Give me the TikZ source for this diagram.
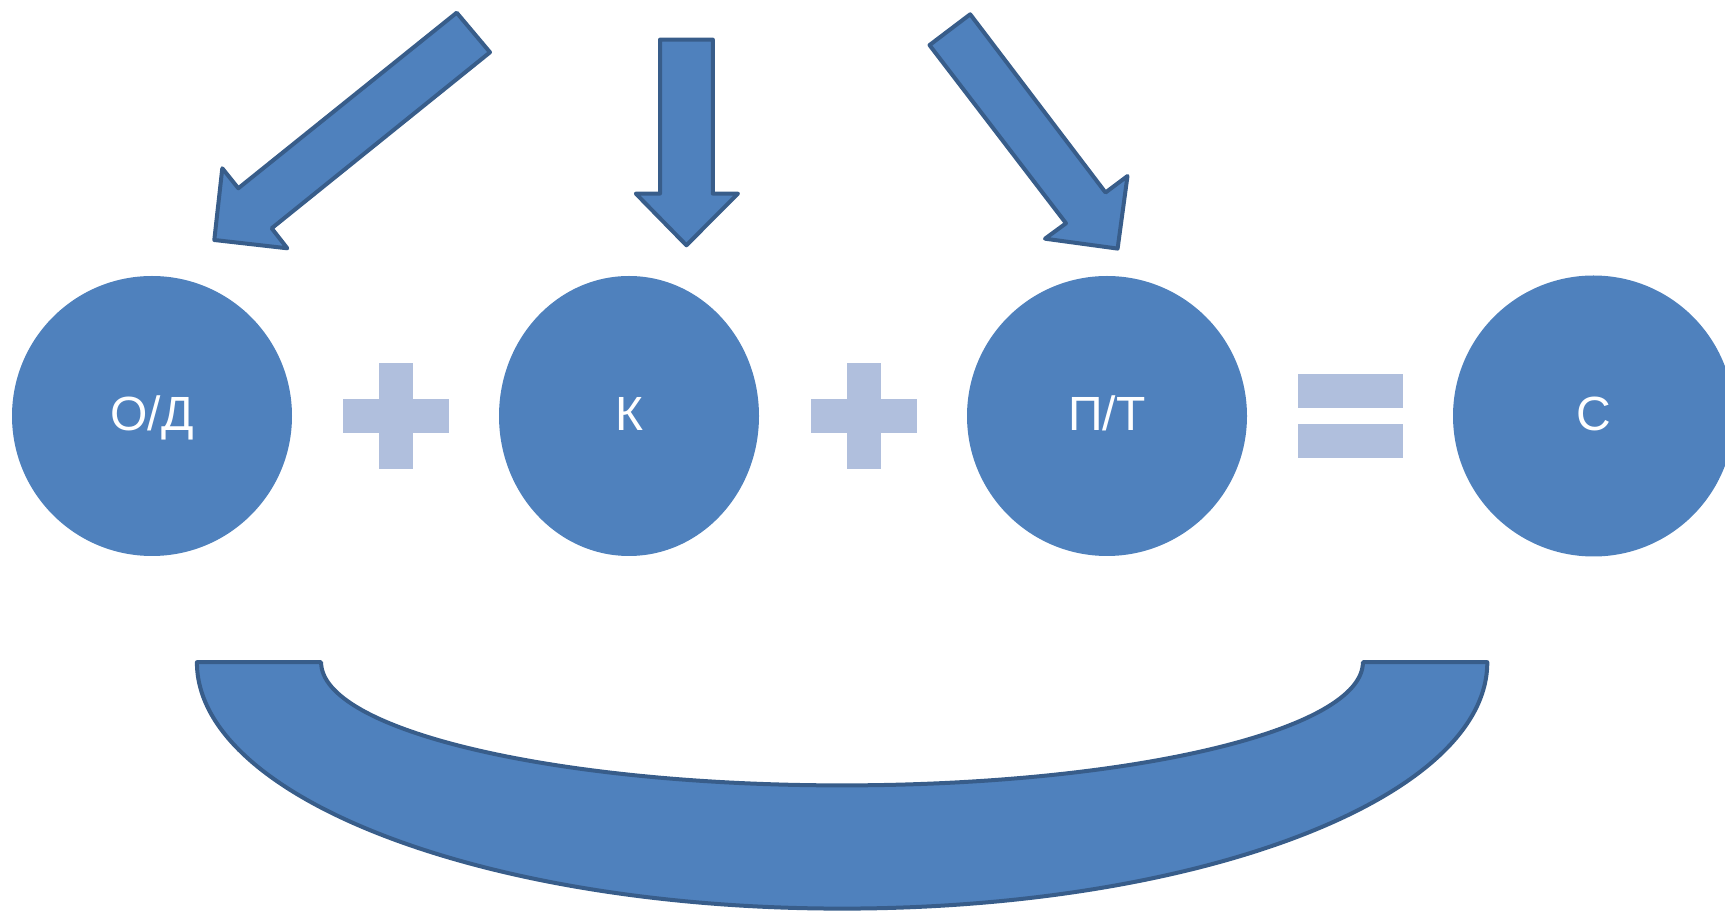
\documentclass[tikz,border=0pt]{standalone}
\usepackage{fontspec}
\setmainfont{Liberation Sans}
\usetikzlibrary{shapes.geometric}
\definecolor{boxfill}{HTML}{4F81BD}
\definecolor{boxline}{HTML}{385D8A}
\definecolor{signfill}{RGB}{176,191,221}
\begin{document}
\begin{tikzpicture}[x=1pt,y=1pt,
  ball/.style={ellipse,fill=boxfill,draw=none,inner sep=0pt,text=white,
    font=\fontsize{48}{52}\selectfont,text height=34.4pt,text depth=5pt},
  blockshape/.style={fill=boxfill,draw=boxline,line width=4pt,line join=round},
  signshape/.style={fill=signfill,draw=none}]
\useasboundingbox (0,0) rectangle (1725,911);
% circles
\node[ball,minimum width=280,minimum height=280] (od) at (152,495) {О/Д};
\node[ball,minimum width=260,minimum height=280] (k) at (629,495) {К};
\node[ball,minimum width=280,minimum height=280] (pt) at (1107,495) {П/Т};
\node[ball,minimum width=281,minimum height=281] (c) at (1593.5,495) {С};
% plus signs
\foreach \cx/\nm in {396/plusA,863.5/plusB}{
  \fill[signfill] (\cx-17,495-53) rectangle (\cx+17,495+53);
  \fill[signfill] (\cx-53,495-17) rectangle (\cx+53,495+17);
  \coordinate (\nm) at (\cx,495);
}
% equals sign
\fill[signfill] (1298,503.3) rectangle (1402.5,537.3);
\fill[signfill] (1298,452.7) rectangle (1402.5,486.7);
% arrows
\draw[blockshape] (456.7,898.3) -- (490,858.7) -- (271.7,682.7) -- (287.3,662.7)
  -- (214.3,671) -- (222.3,742.7) -- (238.3,722.7) -- cycle;
\draw[blockshape] (660,871.4) -- (712.8,871.4) -- (712.8,717.4) -- (738,717.4)
  -- (686.4,665.7) -- (635.8,717.4) -- (660,717.4) -- cycle;
\draw[blockshape] (929.5,865.9) -- (970.2,896.7) -- (1105.5,718.5) -- (1127.5,735)
  -- (1117.6,662.4) -- (1045,672.3) -- (1066,687.7) -- cycle;
% block arc
\draw[blockshape] (196.9,248.8) arc[start angle=180,end angle=360,x radius=645.2,y radius=246.4]
  -- (1362.9,248.8) arc[start angle=0,end angle=-180,x radius=520.9,y radius=123.2] -- cycle;
\end{tikzpicture}
\end{document}
